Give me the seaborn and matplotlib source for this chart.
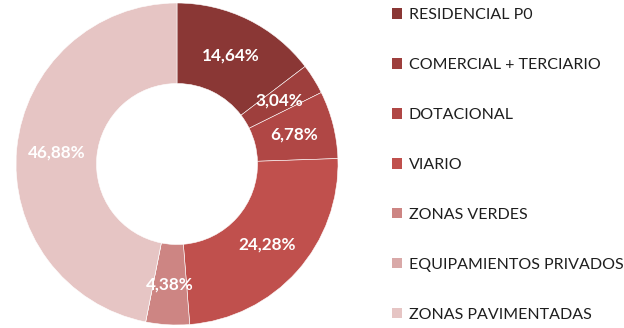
import matplotlib
matplotlib.use("Agg")
import matplotlib.pyplot as plt
import seaborn as sns
from matplotlib.patches import Patch

sns.set_theme(style="white")
plt.rcParams["font.family"] = ["Lato", "DejaVu Sans"]

categories = [
    "RESIDENCIAL P0",
    "COMERCIAL + TERCIARIO",
    "DOTACIONAL",
    "VIARIO",
    "ZONAS VERDES",
    "EQUIPAMIENTOS PRIVADOS",
    "ZONAS PAVIMENTADAS",
]
shares = [14.64, 3.04, 6.78, 24.28, 4.38, 0.00, 46.88]
colors = ["#8A3735", "#9E3F3D", "#B04745", "#C0504D", "#CD8583", "#D9A9A8", "#E6C5C4"]

fig = plt.figure(figsize=(6.24, 3.28), dpi=100)
ax = fig.add_axes([16 / 624, 3 / 328, 322 / 624, 322 / 328])

def fmt(p):
    return "" if p < 0.5 else f"{p:.2f}%".replace(".", ",")

wedges, _, autotexts = ax.pie(
    shares,
    colors=colors,
    startangle=90,
    counterclock=False,
    radius=1.0,
    autopct=fmt,
    pctdistance=0.75,
    wedgeprops=dict(width=0.5, edgecolor="white", linewidth=0.4),
    textprops=dict(color="white", fontweight="bold", fontsize=12.3),
)
ax.set_xlim(-1, 1)
ax.set_ylim(-1, 1)
ax.set_aspect("equal")
ax.axis("off")

handles = [Patch(facecolor=c, edgecolor="none") for c in colors]
leg = fig.legend(
    handles,
    categories,
    loc="upper left",
    bbox_to_anchor=(392 / 624, 1 - 8 / 328),
    frameon=False,
    fontsize=11.5,
    handlelength=0.65,
    handleheight=0.65,
    handletextpad=0.4,
    labelspacing=2.25,
    borderaxespad=0,
    borderpad=0,
)
for t in leg.get_texts():
    t.set_color("#1e1e1e")

fig.savefig("out.png", dpi=100)
